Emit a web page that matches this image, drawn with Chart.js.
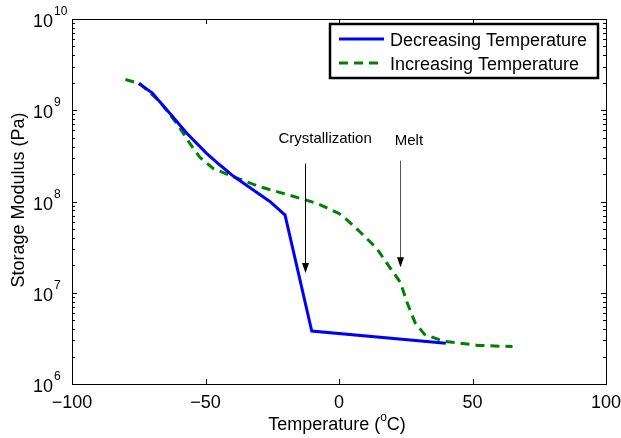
<!DOCTYPE html>
<html>
<head>
<meta charset="utf-8">
<script src="https://cdn.jsdelivr.net/npm/chart.js@4.4.1/dist/chart.umd.min.js"></script>
<style>
  html, body { margin: 0; padding: 0; background: #fff; }
  #wrap { width: 621px; height: 438px; position: relative; }
</style>
</head>
<body>
<div id="wrap"><canvas id="myChart" width="621" height="438"></canvas></div>
<script>
'use strict';

// data (temperature in C, modulus in Pa)

let decTemp = [-75, -70, -63.3, -57, -49.6, -44.6, -39.6, -32.1, -25.9, -20.2, -10.2, 40];
let decModulus = [1.96e9, 1.55e9, 9.2e8, 5.6e8, 3.37e8, 2.51e8, 1.9e8, 1.34e8, 1.0e8, 7.1e7, 3.8e6, 2.8e6];

let incTemp = [-80, -74.5, -67, -60.8, -55.8, -52.1, -47.1, -39.6, -29.6, -15.8, -8, 0, 3, 8, 14, 19, 23, 25.5, 28.5, 32, 39, 52, 65];
let incModulus = [2.17e9, 1.96e9, 1.23e9, 7.2e8, 4.3e8, 3.05e8, 2.3e8, 1.87e8, 1.45e8, 1.11e8, 9.5e7, 7.4e7, 6.3e7, 4.6e7, 3.1e7, 1.9e7, 1.3e7, 7.8e6, 4.7e6, 3.5e6, 2.95e6, 2.65e6, 2.57e6];

let seriesNames = ['Decreasing Temperature', 'Increasing Temperature'];

let xTicks = [-100, -50, 0, 50, 100];
let yExponents = [6, 7, 8, 9, 10];

// annotations: label, arrow x, arrow top, arrow tip, label x, label y
let noteLabels = ['Crystallization', 'Melt'];
let noteX = [-12.7, 22.8];
let noteTop = [2.6e8, 2.8e8];
let noteTip = [1.65e7, 1.9e7];
let noteTextX = [-5.2, 26.2];
let noteTextY = [4.4e8, 4.2e8];

const FONT = '"Liberation Sans", Arial, Helvetica, sans-serif';

function toPoints(xs, ys) {
  let pts = [];
  for (let i = 0; i < xs.length; i++) {
    pts.push({ x: xs[i], y: ys[i] });
  }
  return pts;
}

// draws the matlab style box, ticks, labels, legend and arrows
const matlabPlugin = {
  id: 'matlabLook',
  afterDraw(chart) {
    const ctx = chart.ctx;
    const xs = chart.scales.x;
    const ys = chart.scales.y;
    const a = chart.chartArea;
    ctx.save();

    // box
    ctx.strokeStyle = '#000';
    ctx.lineWidth = 1;
    ctx.strokeRect(Math.round(a.left) + 0.5, Math.round(a.top) + 0.5, Math.round(a.right - a.left), Math.round(a.bottom - a.top));

    // x ticks (inward, top and bottom)
    ctx.beginPath();
    xTicks.forEach(function (t) {
      let px = Math.round(xs.getPixelForValue(t)) + 0.5;
      ctx.moveTo(px, a.bottom);
      ctx.lineTo(px, a.bottom - 5);
      ctx.moveTo(px, a.top);
      ctx.lineTo(px, a.top + 5);
    });
    // y ticks, major and log minor, both sides
    for (let e = 6; e <= 10; e++) {
      let py = Math.round(ys.getPixelForValue(Math.pow(10, e))) + 0.5;
      ctx.moveTo(a.left, py);
      ctx.lineTo(a.left + 5, py);
      ctx.moveTo(a.right, py);
      ctx.lineTo(a.right - 5, py);
      if (e < 10) {
        for (let m = 2; m <= 9; m++) {
          let my = Math.round(ys.getPixelForValue(m * Math.pow(10, e))) + 0.5;
          ctx.moveTo(a.left, my);
          ctx.lineTo(a.left + 3, my);
          ctx.moveTo(a.right, my);
          ctx.lineTo(a.right - 3, my);
        }
      }
    }
    ctx.stroke();

    // x tick labels
    ctx.fillStyle = '#000';
    ctx.font = '18px ' + FONT;
    ctx.textAlign = 'center';
    ctx.textBaseline = 'alphabetic';
    xTicks.forEach(function (t) {
      let txt = t < 0 ? '\u2212' + Math.abs(t) : String(t);
      ctx.fillText(txt, xs.getPixelForValue(t), a.bottom + 24);
    });

    // y tick labels 10^n
    yExponents.forEach(function (e) {
      let py = ys.getPixelForValue(Math.pow(10, e));
      ctx.font = '18px ' + FONT;
      ctx.textAlign = 'right';
      ctx.fillText('10', a.left - 19, py + 8);
      ctx.font = '12px ' + FONT;
      ctx.textAlign = 'left';
      ctx.fillText(String(e), a.left - 18, py - 4);
    });

    // axis titles
    let cx = (a.left + a.right) / 2 - 2;
    let part1 = 'Temperature (';
    let part3 = 'C)';
    ctx.font = '18px ' + FONT;
    let w1 = ctx.measureText(part1).width;
    let w3 = ctx.measureText(part3).width;
    ctx.font = '12px ' + FONT;
    let w2 = ctx.measureText('o').width;
    let startX = cx - (w1 + w2 + w3) / 2;
    ctx.textAlign = 'left';
    ctx.font = '18px ' + FONT;
    ctx.fillText(part1, startX, 430);
    ctx.font = '12px ' + FONT;
    ctx.fillText('o', startX + w1, 421);
    ctx.font = '18px ' + FONT;
    ctx.fillText(part3, startX + w1 + w2, 430);

    ctx.save();
    ctx.translate(24, 200);
    ctx.rotate(-Math.PI / 2);
    ctx.textAlign = 'center';
    ctx.fillText('Storage Modulus (Pa)', 0, 0);
    ctx.restore();

    // annotations
    for (let i = 0; i < noteLabels.length; i++) {
      let ax = Math.round(xs.getPixelForValue(noteX[i])) + 0.5;
      let top = ys.getPixelForValue(noteTop[i]);
      let tip = ys.getPixelForValue(noteTip[i]);
      ctx.strokeStyle = i === 0 ? '#000' : '#555';
      ctx.lineWidth = 1;
      ctx.beginPath();
      ctx.moveTo(ax, top);
      ctx.lineTo(ax, tip - 8);
      ctx.stroke();
      ctx.fillStyle = '#000';
      ctx.beginPath();
      ctx.moveTo(ax - 3.5, tip - 10);
      ctx.lineTo(ax + 3.5, tip - 10);
      ctx.lineTo(ax, tip);
      ctx.closePath();
      ctx.fill();
      ctx.font = '15px ' + FONT;
      ctx.textAlign = 'center';
      ctx.fillText(noteLabels[i], xs.getPixelForValue(noteTextX[i]), ys.getPixelForValue(noteTextY[i]));
    }

    // legend box
    ctx.fillStyle = '#fff';
    ctx.fillRect(329, 23, 270, 56);
    ctx.strokeStyle = '#000';
    ctx.lineWidth = 2.5;
    ctx.strokeRect(330, 24, 268, 54);
    chart.data.datasets.forEach(function (ds, i) {
      let ly = 39 + i * 24;
      ctx.strokeStyle = ds.borderColor;
      ctx.lineWidth = ds.borderWidth;
      ctx.setLineDash(ds.borderDash || []);
      ctx.beginPath();
      ctx.moveTo(339, ly);
      ctx.lineTo(384, ly);
      ctx.stroke();
      ctx.setLineDash([]);
      ctx.fillStyle = '#000';
      ctx.font = '18px ' + FONT;
      ctx.textAlign = 'left';
      ctx.fillText(ds.label, 390, ly + 6.5);
    });

    ctx.restore();
  }
};

const ctx = document.getElementById('myChart').getContext('2d');

let myChart = new Chart(ctx, {
  type: 'line',
  data: {
    datasets: [{
      label: seriesNames[0],
      data: toPoints(decTemp, decModulus),
      borderColor: '#0000ff',
      borderWidth: 3,
      pointRadius: 0,
      tension: 0,
      fill: false
    },
    {
      label: seriesNames[1],
      data: toPoints(incTemp, incModulus),
      borderColor: '#008000',
      borderWidth: 3,
      borderDash: [9, 6],
      pointRadius: 0,
      tension: 0,
      fill: false
    }]
  },
  options: {
    responsive: false,
    animation: false,
    devicePixelRatio: 1,
    layout: {
      padding: { left: 72, top: 19, right: 15, bottom: 54 }
    },
    plugins: {
      legend: { display: false },
      tooltip: { enabled: false }
    },
    scales: {
      x: {
        type: 'linear',
        min: -100,
        max: 100,
        ticks: { display: false },
        grid: { display: false, drawTicks: false },
        border: { display: false }
      },
      y: {
        type: 'logarithmic',
        min: 1e6,
        max: 1e10,
        ticks: { display: false },
        grid: { display: false, drawTicks: false },
        border: { display: false }
      }
    }
  },
  plugins: [matlabPlugin]
});
</script>
</body>
</html>
